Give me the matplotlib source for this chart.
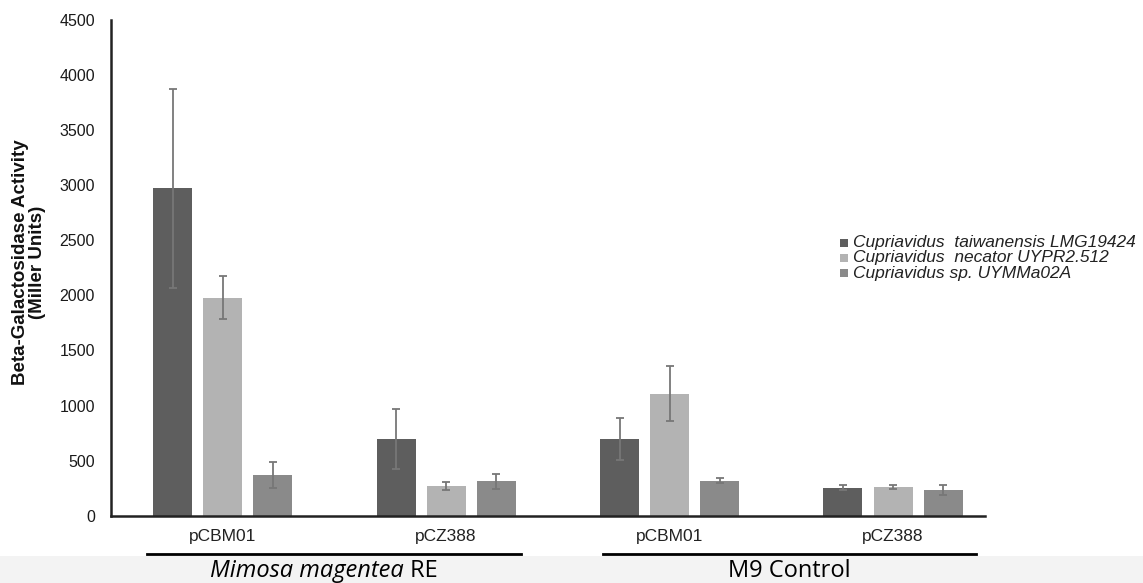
import matplotlib
matplotlib.use("Agg")
import matplotlib.pyplot as plt
import numpy as np
from matplotlib.lines import Line2D
from matplotlib.patches import Rectangle

plt.rcParams["font.family"] = ["Liberation Sans", "DejaVu Sans"]

# data (Miller units)
plasmids = ["pCBM01", "pCZ388", "pCBM01", "pCZ388"]
conditions = ["Mimosa magentea RE", "M9 Control"]
strains = ["Cupriavidus  taiwanensis LMG19424",
           "Cupriavidus  necator UYPR2.512",
           "Cupriavidus sp. UYMMa02A"]
taiwanensis = [2970, 697, 699, 258]
taiwanensis_err = [900, 270, 192, 22]
necator = [1980, 275, 1110, 266]
necator_err = [195, 35, 245, 19]
sp = [370, 314, 320, 237]
sp_err = [120, 67, 22, 45]

values = [taiwanensis, necator, sp]
errors = [taiwanensis_err, necator_err, sp_err]
colors = ["#5e5e5e", "#b3b3b3", "#8a8a8a"]

W, H = 1143, 583
fig = plt.figure(figsize=(W / 100, H / 100), dpi=100)
fig.patch.set_facecolor("white")

# light grey strip at the bottom (pasted caption area)
fig.patches.append(Rectangle((0, 0), 1, (H - 556) / H, transform=fig.transFigure,
                             facecolor="#f3f3f3", edgecolor="none", zorder=0))

ax = fig.add_axes([111 / W, (H - 516) / H, (985 - 111) / W, (516 - 19.5) / H])

x = np.arange(len(plasmids))
width = 0.1745
pitch = 0.224
for i in range(3):
    ax.bar(x + (i - 1) * pitch, values[i], width, color=colors[i],
           yerr=errors[i], error_kw=dict(ecolor="#777777", elinewidth=1.3,
                                         capsize=3, capthick=1.3),
           label=strains[i], zorder=2)

ax.set_xlim(-0.5, 3 + (985 - 893) / 223.5)
ax.set_ylim(0, 4500)
ax.set_yticks(np.arange(0, 4501, 500))
ax.tick_params(axis="y", length=0, pad=11.5, labelsize=11.5, labelcolor="#1a1a1a")
ax.set_xticks([])
for s in ["top", "right"]:
    ax.spines[s].set_visible(False)
for s in ["left", "bottom"]:
    ax.spines[s].set_linewidth(1.8)
    ax.spines[s].set_color("#222222")

for xi, lab in zip(x, plasmids):
    ax.text(xi, -21 / 496.5, lab, transform=ax.get_xaxis_transform(),
            ha="center", va="center", fontsize=12.5, color="#222222")

fig.text(29 / W, 1 - 262 / H, "Beta-Galactosidase Activity\n(Miller Units)",
         rotation=90, ha="center", va="center", fontsize=13.5, fontweight="bold",
         multialignment="center", color="#111111", linespacing=1.0)

# group underlines
for x0, x1 in [(147, 521), (603, 976)]:
    fig.add_artist(Line2D([x0 / W, x1 / W], [(H - 554) / H] * 2,
                          transform=fig.transFigure, color="black", lw=2))

# group captions
ty = (H - 571) / H
fig.canvas.draw()
r = fig.canvas.get_renderer()
t1 = fig.text(0, ty, "Mimosa magentea", fontsize=17, style="italic",
              family="Open Sans", va="center")
t2 = fig.text(0, ty, " RE", fontsize=17, family="Open Sans", va="center")
w1 = t1.get_window_extent(r).width
w2 = t2.get_window_extent(r).width
start = 324 - (w1 + w2) / 2
t1.set_x(start / W)
t2.set_x((start + w1) / W)
fig.text(789 / W, ty, conditions[1], fontsize=17, family="Open Sans",
         ha="center", va="center")

# legend, drawn by hand to get the tight row spacing of the original
for k, (c, lab) in enumerate(zip(colors, strains)):
    yc = 243 + 15 * k
    fig.patches.append(Rectangle((840 / W, 1 - (yc + 4) / H), 8 / W, 8 / H,
                                 transform=fig.transFigure, facecolor=c,
                                 edgecolor="none"))
    fig.text(853 / W, 1 - yc / H, lab, fontsize=12.5, style="italic",
             va="center", ha="left", color="#222222")

fig.savefig("out.png", dpi=100)
